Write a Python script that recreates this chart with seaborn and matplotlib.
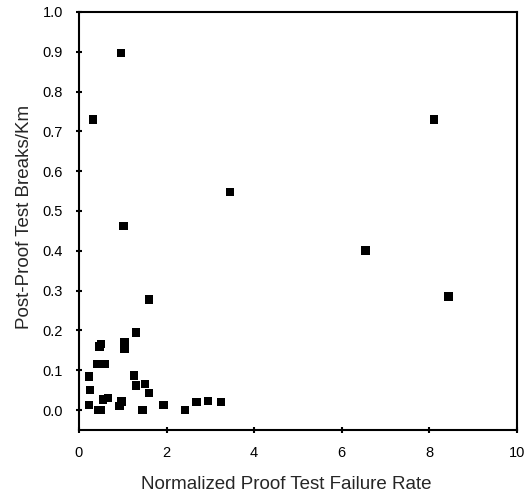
import matplotlib
matplotlib.use("Agg")
import matplotlib.pyplot as plt
import seaborn as sns
import pandas as pd

# valores
tasa_fallo = [0.96, 0.32, 1.02, 1.60, 1.30, 0.47, 0.50, 1.04, 1.04,
              0.43, 0.59, 0.23, 1.26, 1.30, 1.51, 1.60, 0.25, 0.23,
              0.55, 0.66, 0.45, 0.50, 0.93, 0.97, 1.45, 1.93, 2.42,
              2.68, 2.95, 3.24, 8.10, 8.43, 3.45, 6.54]
roturas_km = [0.897, 0.730, 0.462, 0.277, 0.195, 0.159, 0.166, 0.169, 0.153,
              0.116, 0.116, 0.084, 0.087, 0.062, 0.065, 0.043, 0.050, 0.013,
              0.026, 0.030, 0.0, 0.0, 0.010, 0.021, 0.0, 0.013, 0.0,
              0.020, 0.023, 0.020, 0.730, 0.285, 0.548, 0.401]

df = pd.DataFrame({"x": tasa_fallo, "y": roturas_km})

sns.set_theme(style="white")
plt.rcParams['font.family'] = ['Liberation Sans', 'DejaVu Sans']

fig = plt.figure(figsize=(5.26, 4.97), dpi=100)
ax = fig.add_axes([0.150, 0.135, 0.833, 0.841])

sns.scatterplot(data=df, x="x", y="y", marker="s", s=38, color="black",
                edgecolor="none", linewidth=0, ax=ax, legend=False)

ax.set_xlim(0, 10)
ax.set_ylim(-0.05, 1.0)
ax.set_xticks([0, 2, 4, 6, 8, 10])
ax.set_yticks([i / 10 for i in range(11)])
ax.set_yticklabels([f"{i / 10:.1f}" for i in range(11)])

for lado in ["left", "bottom", "top", "right"]:
    ax.spines[lado].set_visible(True)
    ax.spines[lado].set_color("black")
    ax.spines[lado].set_linewidth(1.5)

ax.tick_params(axis="both", direction="inout", length=5, width=1.5,
               colors="black", labelsize=10.5, pad=9,
               left=True, bottom=True, top=False, right=False)

ax.set_xlabel("Normalized Proof Test Failure Rate", fontsize=13.5)
ax.set_ylabel("Post-Proof Test Breaks/Km", fontsize=13.5)
ax.xaxis.set_label_coords(0.473, -0.11)
ax.yaxis.set_label_coords(-0.105, 0.51)

fig.savefig("out.png", dpi=100)
plt.close(fig)
